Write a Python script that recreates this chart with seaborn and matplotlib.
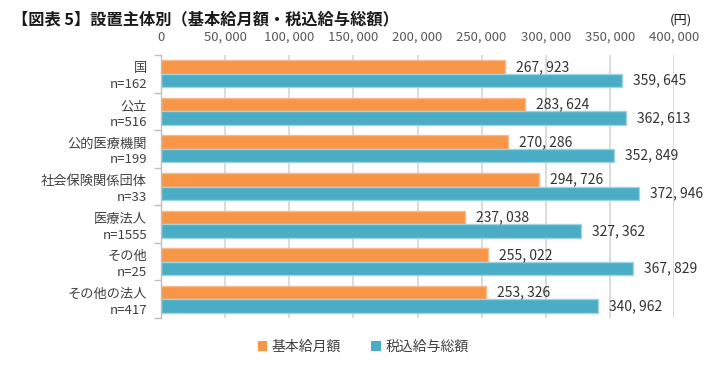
import matplotlib
matplotlib.use('Agg')
import matplotlib.pyplot as plt
import seaborn as sns
import pandas as pd
from matplotlib.ticker import FuncFormatter, FixedLocator
from matplotlib.patches import Patch

categories = ['国', '公立', '公的医療機関', '社会保険関係団体', '医療法人', 'その他', 'その他の法人']
counts = ['n=162', 'n=516', 'n=199', 'n=33', 'n=1555', 'n=25', 'n=417']
base_pay = [267923, 283624, 270286, 294726, 237038, 255022, 253326]
total_pay = [359645, 362613, 352849, 372946, 327362, 367829, 340962]
series = ['基本給月額', '税込給与総額']
colors = ['#F79646', '#4BACC6']
edge_colors = ['#FAB98A', '#9ED3E2']
x_ticks = [0, 50000, 100000, 150000, 200000, 250000, 300000, 350000, 400000]

sns.set_theme(style='white')
plt.rcParams['font.family'] = ['Noto Sans CJK JP', 'DejaVu Sans']

df = pd.DataFrame({
    'category': categories * 2,
    'value': base_pay + total_pay,
    'series': [series[0]] * len(categories) + [series[1]] * len(categories),
})

fig = plt.figure(figsize=(7.21, 3.7), dpi=100)
ax = fig.add_axes([161 / 721, 1 - 318 / 370, 513 / 721, 263 / 370])
sns.barplot(data=df, y='category', x='value', hue='series', order=categories,
            hue_order=series, palette=colors, width=0.72, orient='h', ax=ax,
            legend=False, saturation=1)

fmt = lambda v: f"{int(v):,}".replace(',', ', ')
for cont, ec in zip(ax.containers, edge_colors):
    for p in cont:
        p.set_edgecolor(ec)
        p.set_linewidth(1.0)
    ax.bar_label(cont, labels=[fmt(p.get_width()) for p in cont], padding=8,
                 fontsize=10, color='#333333')

ax.set_xlim(0, 400000)
ax.set_ylim(len(categories) - 0.5, -0.5)
ax.xaxis.set_major_locator(FixedLocator(x_ticks))
ax.xaxis.set_major_formatter(FuncFormatter(lambda v, p: fmt(v)))
ax.xaxis.tick_top()
ax.tick_params(axis='x', length=0, pad=8, labelsize=9.5, labelcolor='#595959')
ax.set_yticks(range(len(categories)))
ax.set_yticklabels([f"{c}\n{n}" for c, n in zip(categories, counts)],
                   linespacing=1.3, ha='right')
ax.tick_params(axis='y', which='major', length=0, pad=10, labelsize=9.5, labelcolor='#404040')
ax.set_yticks([i - 0.5 for i in range(len(categories) + 1)], minor=True)
ax.tick_params(axis='y', which='minor', length=5, color='#BFBFBF', width=1, left=True)
ax.set_xlabel('')
ax.set_ylabel('')
ax.grid(axis='x', color='#D9D9D9', lw=1.3)
ax.set_axisbelow(True)
for s in ['top', 'right', 'bottom']:
    ax.spines[s].set_visible(False)
ax.spines['left'].set_color('#BFBFBF')
ax.spines['left'].set_linewidth(1.0)

fig.text(12 / 721, 1 - 19 / 370, '【図表 5】設置主体別（基本給月額・税込給与総額）',
         fontsize=11.7, fontweight='bold', va='center', ha='left', color='#1a1a1a')
fig.text(681 / 721, 1 - 20 / 370, '(円)', fontsize=9.5, va='center', ha='center', color='#1a1a1a')

handles = [Patch(facecolor=c, edgecolor='none') for c in colors]
fig.legend(handles, series, loc='center', bbox_to_anchor=(363 / 721, 1 - 347 / 370),
           ncol=2, frameon=False, fontsize=10, handlelength=0.7, handleheight=0.7,
           handletextpad=0.3, columnspacing=2.2, labelcolor='#404040')

fig.savefig('out.png', dpi=100)
